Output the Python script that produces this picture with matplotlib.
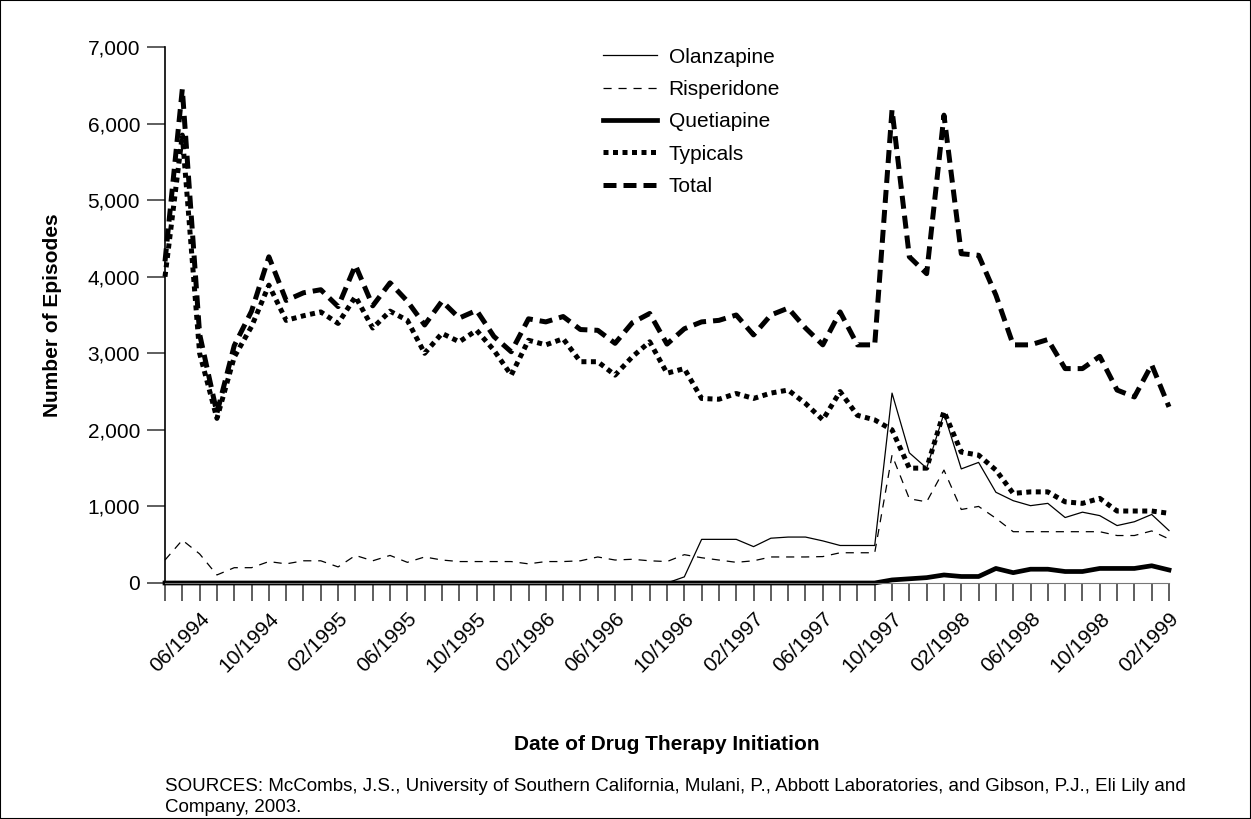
import numpy as np
import pandas as pd
from matplotlib import pyplot as plt
from matplotlib.patches import Rectangle
from matplotlib.ticker import FuncFormatter

months = pd.period_range('1994-04', '1999-02', freq='M')

olanzapine = [0, 0, 0, 0, 0, 0, 0, 0, 0, 0,
              0, 0, 0, 0, 0, 0, 0, 0, 0, 0,
              0, 0, 0, 0, 0, 0, 0, 0, 0, 0,
              80, 570, 570, 570, 475, 585, 600, 600, 550, 490,
              490, 490, 2480, 1700, 1500, 2215, 1490, 1575, 1185, 1075,
              1010, 1040, 855, 925, 880, 750, 800, 895, 685]
risperidone = [300, 560, 380, 105, 200, 200, 280, 250, 290, 290,
               210, 360, 290, 360, 270, 340, 300, 280, 280, 280,
               280, 250, 280, 280, 290, 340, 300, 310, 290, 280,
               370, 330, 300, 270, 290, 340, 340, 340, 345, 395,
               395, 395, 1670, 1100, 1060, 1475, 960, 1000, 845, 670,
               670, 670, 670, 670, 670, 620, 620, 680, 575]
quetiapine = [0, 0, 0, 0, 0, 0, 0, 0, 0, 0,
              0, 0, 0, 0, 0, 0, 0, 0, 0, 0,
              0, 0, 0, 0, 0, 0, 0, 0, 0, 0,
              0, 0, 0, 0, 0, 0, 0, 0, 0, 0,
              0, 0, 40, 55, 70, 105, 85, 85, 190, 135,
              180, 180, 150, 150, 190, 190, 190, 225, 170]
typicals = [4000, 5850, 3000, 2150, 2950, 3350, 3890, 3430, 3490, 3540,
            3390, 3740, 3330, 3550, 3430, 3000, 3260, 3150, 3300, 3040,
            2715, 3170, 3110, 3190, 2890, 2890, 2715, 2955, 3150, 2740,
            2800, 2410, 2400, 2475, 2410, 2480, 2520, 2345, 2130, 2500,
            2190, 2130, 2000, 1500, 1500, 2240, 1710, 1670, 1475, 1170,
            1190, 1190, 1060, 1040, 1105, 940, 940, 940, 910]
total = [4200, 6450, 3250, 2220, 3100, 3550, 4260, 3690, 3790, 3830,
         3610, 4150, 3620, 3920, 3680, 3370, 3680, 3460, 3560, 3220,
         3020, 3450, 3410, 3480, 3310, 3300, 3130, 3400, 3520, 3120,
         3320, 3410, 3430, 3500, 3240, 3500, 3590, 3330, 3110, 3540,
         3110, 3110, 6180, 4260, 4040, 6110, 4300, 4280, 3760, 3110,
         3110, 3180, 2800, 2800, 2960, 2520, 2430, 2850, 2300]

plt.rcParams['font.family'] = ['Liberation Sans', 'DejaVu Sans']

fig = plt.figure(figsize=(12.51, 8.19), dpi=100)
ax = fig.add_axes([165 / 1251, 236 / 819, 1004 / 1251, 536 / 819])

x = np.arange(len(months))
ax.plot(x, olanzapine, color='black', lw=0.9, label='Olanzapine', clip_on=False)
ax.plot(x, risperidone, color='black', lw=0.9, dashes=(6.5, 5.5), label='Risperidone', clip_on=False)
ax.plot(x, quetiapine, color='black', lw=3.4, label='Quetiapine', clip_on=False)
ax.plot(x, typicals, color='black', lw=3.6, dashes=(1, 0.9), label='Typicals', clip_on=False)
ax.plot(x, total, color='black', lw=3.6, dashes=(2.6, 1.4), label='Total', clip_on=False)

ax.set_xlim(0, len(months) - 1)
ax.set_ylim(0, 7000)
ax.set_yticks(range(0, 7001, 1000))
ax.yaxis.set_major_formatter(FuncFormatter(lambda v, p: f'{int(v):,}'))

# label every 4th month, starting 06/1994
ax.set_xticks(x)
ax.set_xticklabels([m.strftime('%m/%Y') if (i - 2) % 4 == 0 else '' for i, m in enumerate(months)],
                   rotation=45, ha='right', va='top', rotation_mode='anchor')

ax.tick_params(axis='both', direction='out', length=13, width=1.1, labelsize=15, color='#333333')
ax.tick_params(axis='y', pad=5)
ax.tick_params(axis='x', pad=6)

for s in ['top', 'right']:
    ax.spines[s].set_visible(False)
ax.spines['left'].set_linewidth(1.2)
ax.spines['bottom'].set_color('#777777')

ax.set_ylabel('Number of Episodes', fontsize=15, fontweight='bold')
ax.yaxis.set_label_coords(-0.1026, 0.5)
ax.set_xlabel('Date of Drug Therapy Initiation', fontsize=15, fontweight='bold')
ax.xaxis.set_label_coords(0.5, -0.284)

leg = ax.legend(loc='upper left', bbox_to_anchor=(0.4363, 0.999), frameon=False, fontsize=15,
                handlelength=2.6, handletextpad=0.55, labelspacing=0.64, borderpad=0, borderaxespad=0)

fig.text(165 / 1251, 0.050,
         'SOURCES: McCombs, J.S., University of Southern California, Mulani, P., Abbott Laboratories, and Gibson, P.J., Eli Lily and\nCompany, 2003.',
         fontsize=13.5, va='top', ha='left', linespacing=1.3)

fig.patches.append(Rectangle((0, 0), 1, 1, transform=fig.transFigure, fill=False,
                             edgecolor='black', lw=1.5))

fig.savefig('out.png', dpi=100)
